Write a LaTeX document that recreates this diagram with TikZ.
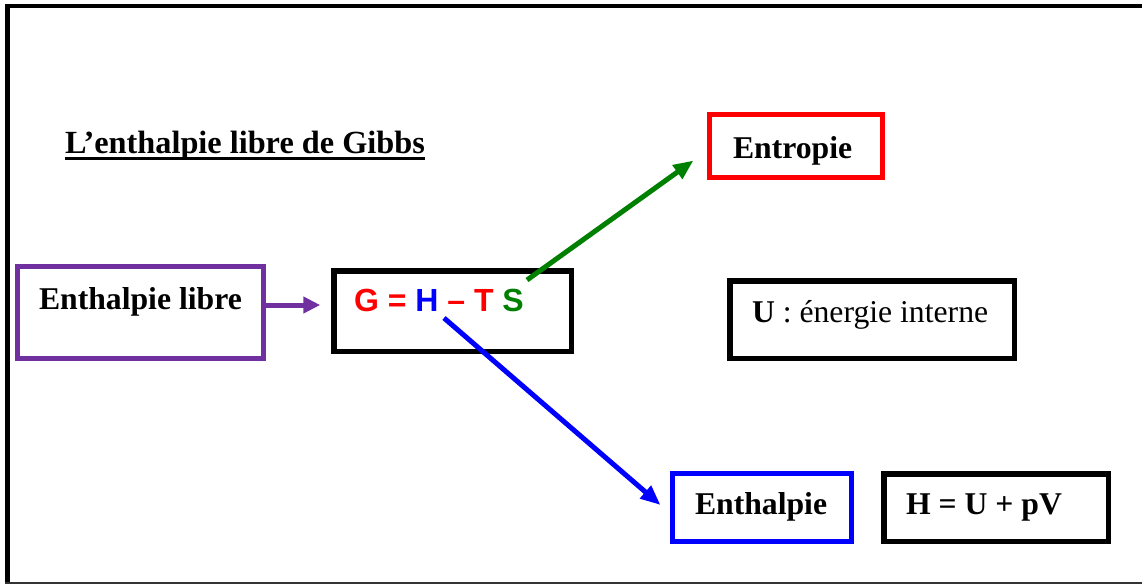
\documentclass[tikz,border=0pt]{standalone}
\usepackage{fontspec}
\setmainfont{Liberation Serif}
\newfontfamily\sansb{Liberation Sans}[BoldFont={Liberation Sans Bold}]
\usetikzlibrary{arrows.meta,calc}
\definecolor{purp}{RGB}{112,48,160}
\definecolor{grn}{RGB}{0,128,0}
\definecolor{rd}{RGB}{255,0,0}
\definecolor{bl}{RGB}{0,0,255}
\tikzset{
  box/.style={draw, rectangle, inner sep=0pt, outer sep=0pt},
  txt/.style={anchor=base west, inner sep=0pt, outer sep=0pt,
              font=\fontsize{31.7}{38}\selectfont},
  btxt/.style={txt, font=\fontsize{31.7}{38}\selectfont\bfseries},
  conn/.style={line width=5pt, -{Triangle[length=20pt,width=16pt]}},
}
\begin{document}
\begin{tikzpicture}[x=1pt,y=-1pt]
\useasboundingbox (0,0) rectangle (1142,584);
\fill[white] (0,0) rectangle (1142,584);

% page frame
\draw[line width=4pt] (5,5.5) -- (1142,5.5);
\draw[line width=5pt] (7.5,3.5) -- (7.5,583);
\draw[line width=2pt, black!80] (5,582.5) -- (1142,582.5);

% title
\node[txt, font=\fontsize{32.3}{38}\selectfont\bfseries] (title) at (65,153) {L’enthalpie libre de Gibbs};
\draw[line width=3pt] ($(title.base west)+(0,5.5)$) -- ($(title.base east)+(0,5.5)$);

% boxes
\node[box, draw=purp, line width=5pt, minimum width=246pt, minimum height=92pt] (libre) at (140.5,312.5) {};
\node[box, line width=5.5pt, minimum width=237.5pt, minimum height=80.5pt] (ghts) at (452.5,311) {};
\node[box, draw=rd, line width=5pt, minimum width=173pt, minimum height=63pt] (entropie) at (796,146) {};
\node[box, line width=5.5pt, minimum width=284.5pt, minimum height=77.5pt] (ubox) at (872,319.5) {};
\node[box, draw=bl, line width=5pt, minimum width=179pt, minimum height=68pt] (enthalpie) at (762,507.5) {};
\node[box, line width=5.5pt, minimum width=224.5pt, minimum height=67.5pt] (hdef) at (996,507.5) {};

% texts
\node[btxt] (tlibre) at (39,309) {Enthalpie libre};
\node[txt, font=\fontsize{32}{38}\sansb\bfseries] (tghts) at (354,311)
  {\textcolor{rd}{G = }\textcolor{bl}{H }\textcolor{rd}{– T }\textcolor{grn}{S}};
\node[btxt] (tentropie) at (733,158) {Entropie};
\node[txt] (tu) at (752,322) {\textbf{U} : énergie interne};
\node[btxt] (tenthalpie) at (695,514) {Enthalpie};
\node[btxt] (thdef) at (906,514) {H = U + pV};

% arrow ends
\coordinate (pstart) at ($(libre.east)+(0,-7.5)$);
\coordinate (pend) at ($(ghts.west)+(-13.5,-6)$);
\coordinate (gstart) at (527,280);
\coordinate (gend) at ($(entropie.south west)+(-16,-17)$);
\coordinate (bstart) at (444,318);
\coordinate (bend) at ($(enthalpie.west)+(-12,-2.5)$);

% connectors
\draw[purp, line width=5pt, -{Triangle[length=17pt,width=16pt]}] (pstart) -- (pend);
\draw[conn, grn] (gstart) -- (gend);
\draw[conn, bl] (bstart) -- (bend);
\end{tikzpicture}
\end{document}
